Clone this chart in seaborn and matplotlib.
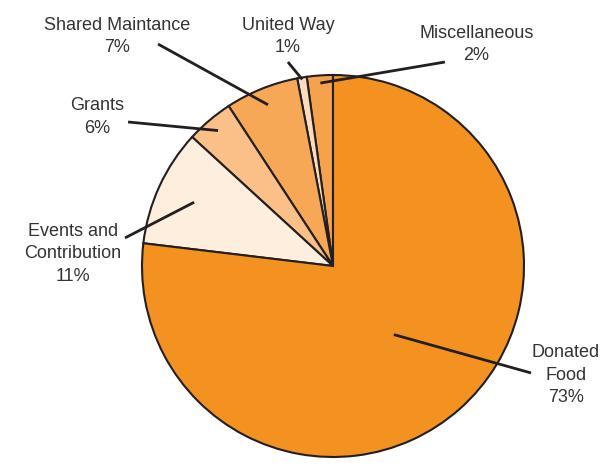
"""
Pie chart of food bank income sources with leader-line labels.
"""

import numpy as np
import seaborn as sns
import matplotlib.pyplot as plt


# ---------------------------------------------------------------------
# Data (wedge order: counter-clockwise from 12 o'clock)
# ---------------------------------------------------------------------
SOURCES = [
    "Miscellaneous",
    "United Way",
    "Shared Maintance",
    "Grants",
    "Events and\nContribution",
    "Donated\nFood",
]
# wedge sizes as drawn in the picture (%)
SHARES = [2.2, 0.8, 6.2, 4.0, 9.9, 76.9]
# percentages as printed on the labels
LABEL_PCT = ["2%", "1%", "7%", "6%", "11%", "73%"]
COLORS = ["#F6A24C", "#FDDCBD", "#F7A856", "#FBC087", "#FEEEDD", "#F39220"]

# ---------------------------------------------------------------------
# Label layout (pie radius = 1)
# ---------------------------------------------------------------------
LEADER_R = [0.96, 0.99, 0.91, 0.93, 0.80, 0.48]
TEXT_XY = [
    (0.75, 1.16),
    (-0.236, 1.20),
    (-1.131, 1.20),
    (-1.236, 0.78),
    (-1.361, 0.063),
    (1.22, -0.571),
]
LINE_END = [
    (0.586, 1.068),
    (-0.236, 1.068),
    (-0.916, 1.162),
    (-1.073, 0.754),
    (-1.089, 0.147),
    (1.037, -0.560),
]

EDGE = "#231F20"
TEXT = "#333333"

sns.set_theme(style="white")
plt.rcParams["font.family"] = ["Liberation Sans", "DejaVu Sans"]


def main() -> None:
    fig = plt.figure(figsize=(6.05, 4.65), dpi=100)
    ax = fig.add_axes([0, 0, 1, 1])

    wedges, _ = ax.pie(
        SHARES,
        colors=COLORS,
        startangle=90,
        counterclock=True,
        radius=1.0,
        wedgeprops={"edgecolor": EDGE, "linewidth": 1.5},
    )

    for wedge, r, (tx, ty), (lx, ly), name, pct in zip(
        wedges, LEADER_R, TEXT_XY, LINE_END, SOURCES, LABEL_PCT
    ):
        mid = np.deg2rad((wedge.theta1 + wedge.theta2) / 2)
        px, py = r * np.cos(mid), r * np.sin(mid)
        ax.plot([px, lx], [py, ly], color=EDGE, linewidth=2.0,
                solid_capstyle="butt", zorder=5)
        ax.text(tx, ty, f"{name}\n{pct}", ha="center", va="center",
                fontsize=13, color=TEXT, linespacing=1.4)

    # 191 px per unit, pie centre at pixel (333, 266)
    ax.set_xlim(-333 / 191, (605 - 333) / 191)
    ax.set_ylim((266 - 465) / 191, 266 / 191)
    ax.set_aspect("equal")
    ax.axis("off")

    fig.savefig("out.png", dpi=100, facecolor="white")


if __name__ == "__main__":
    main()
